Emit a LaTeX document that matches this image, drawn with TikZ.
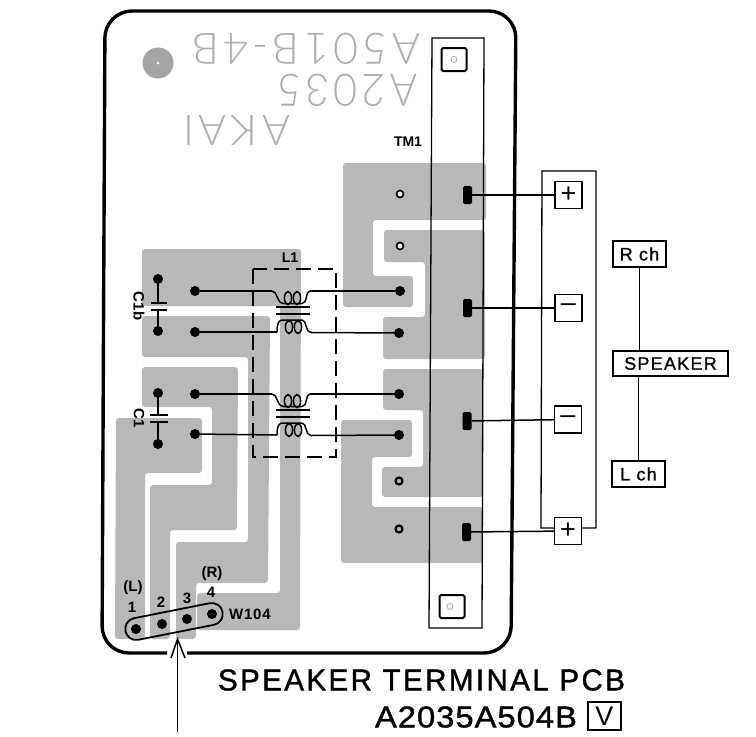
\documentclass[tikz,border=0pt]{standalone}
\usepackage{fontspec}
\usepackage{graphicx}
\setmainfont{Liberation Sans}
\newfontfamily\silkfont{Lato Light}[LetterSpace=10]
\newcommand{\silk}[1]{\textcolor{silkgray}{\silkfont #1}}
\newfontfamily\titlea{Liberation Sans}[LetterSpace=8,FakeBold=1.2]
\newfontfamily\titleb{Liberation Sans}[LetterSpace=3,FakeBold=1.2]
\newfontfamily\tagfont{Liberation Sans}[LetterSpace=7,FakeBold=0.8]
\definecolor{silkgray}{gray}{0.68}
\definecolor{padgray}{gray}{0.72}
\tikzset{
  pad/.style={fill=padgray,draw=none,rounded corners=3pt},
  wire/.style={draw=black,line width=1.5pt},
  thinline/.style={draw=black,line width=1.3pt},
  dot/.style={circle,fill=black,inner sep=0,minimum size=10pt},
  capdot/.style={circle,fill=black,inner sep=0,minimum size=10pt},
  ring/.style={circle,draw=black,fill=white,line width=1.6pt,inner sep=0,minimum size=7pt},
  ringd/.style={circle,draw=black,fill=padgray,line width=2.2pt,inner sep=0,minimum size=7pt},
  term/.style={fill=black,rounded corners=1.5pt,inner sep=0,minimum width=9pt,minimum height=18pt},
  signbox/.style={draw=black,line width=1.3pt,fill=white,inner sep=0,minimum width=27pt,minimum height=27pt,font=\fontsize{27}{27}\selectfont},
  tagbox/.style={draw=black,line width=1.3pt,fill=white,inner sep=0,font=\tagfont\fontsize{18}{18}\selectfont},
  lab/.style={inner sep=0,font=\bfseries\fontsize{14}{14}\selectfont},
  labb/.style={inner sep=0,font=\bfseries\fontsize{15}{15}\selectfont},
  hole/.style={draw=black,line width=2pt,fill=white,rounded corners=1.5pt,minimum width=25pt,minimum height=23pt,inner sep=0},
  hcirc/.style={circle,draw=gray!70,line width=.8pt,fill=white,inner sep=0,minimum size=6pt},
  title/.style={inner sep=0,font=\fontsize{24}{24}\selectfont},
  coilpic/.pic={
    \draw[wire] (-21,-19.5) coordinate (-tl) .. controls (-15,-19.5) and (-17,-7) .. (-9,-7) -- (9,-7)
        .. controls (15,-7) and (12,-19.5) .. (17,-19.5) coordinate (-tr);
    \draw[wire] (-5,-12.5) ellipse [x radius=3.6,y radius=6.5];
    \draw[wire] (4,-12.5) ellipse [x radius=3.6,y radius=6.5];
    \draw[wire] (-17,-3.5) -- (17,-3.5);
    \draw[wire] (-17,3.5) -- (17,3.5);
    \draw[wire] (-16,21.5) coordinate (-bl) .. controls (-16,12) and (-14,9.5) .. (-10,9.5) -- (9,9.5)
        .. controls (14,9.5) and (12,22) .. (18,22) coordinate (-br);
    \draw[wire] (-4,16.5) ellipse [x radius=3.6,y radius=6.5];
    \draw[wire] (5,16.5) ellipse [x radius=3.6,y radius=6.5];
  }
}
\begin{document}
\begin{tikzpicture}[x=1pt,y=-1pt]
\useasboundingbox (0,0) rectangle (756,737);
% copper
\fill[pad] (142,249)--(301,249)--(300,630)--(197,630)--(197,593)--(280,593)--(280,306)--(142,306)--cycle;
\fill[pad] (142,316)--(270,316)--(268,583)--(196,583)--(196,639)--(176,639)--(176,542)--(248,542)--(248,357)--(142,357)--cycle;
\fill[pad] (142,367)--(238,367)--(237,530)--(170,530)--(170,639)--(150,639)--(150,485)--(212,485)--(212,407)--(142,407)--cycle;
\fill[pad] (116,418)--(202,418)--(202,473)--(145,473)--(145,639)--(115,639)--cycle;
\fill[pad] (343,163)--(486,163)--(486,220)--(373,220)--(373,276)--(413,276)--(413,307)--(343,307)--cycle;
\fill[pad] (384,230)--(485,230)--(485,359)--(383,359)--(383,317)--(425,317)--(425,262)--(384,262)--cycle;
\fill[pad] (383,369)--(483,369)--(483,497)--(382,497)--(382,467)--(423,467)--(423,410)--(383,410)--cycle;
\fill[pad] (341,420)--(412,420)--(412,457)--(372,457)--(372,507)--(483,507)--(483,563)--(341,563)--cycle;
% silk text
\node[inner sep=0,rotate=180] (silkA) at (306,48.5) {\resizebox{228pt}{31pt}{\silk{A501B-4B}}};
\node[inner sep=0,rotate=180] (silkB) at (347,90.5) {\resizebox{140pt}{32pt}{\silk{A2035}}};
\node[inner sep=0,rotate=180] (silkC) at (236.5,130) {\resizebox{107pt}{30pt}{\silk{AKAI}}};
\node[circle,fill=padgray!90!black,inner sep=0,minimum size=31pt] (logo) at (158,63) {};
\node[circle,fill=white,inner sep=0,minimum size=3pt] (logoc) at (158,63) {};
% outline
\coordinate (gapL) at (167,653);
\coordinate (gapR) at (187,653);
\draw[line width=3.4pt,rounded corners=27pt] (gapR) -- (511,653) -- (516,11) -- (105,11) -- (102,653) -- (gapL);
% terminal strip
\draw[thinline] (432,38) -- (484,38) -- (482,628) -- (429,628) -- cycle;
\node[hole] (sq1) at (454,59.5) {};
\node[hcirc] (sc1) at (454,59.5) {};
\node[hole] (sq2) at (452,606.5) {};
\node[hcirc] (sc2) at (450,606.5) {};
% terminal dots
\node[ring] (r1) at (400,194) {};
\node[ring] (r2) at (400,246) {};
\node[ringd] (r3) at (399,481) {};
\node[ringd] (r4) at (399,529) {};
\node[dot] (p1) at (400,291) {};
\node[dot] (p2) at (399,333) {};
\node[dot] (p3) at (399,394) {};
\node[dot] (p4) at (399,435) {};
\node[dot] (q1) at (195,291) {};
\node[dot] (q2) at (195,332) {};
\node[dot] (q3) at (195,394) {};
\node[dot] (q4) at (195,434) {};
% inductors
\pic (ca) at (293,310.5) {coilpic};
\pic (cb) at (293,413.5) {coilpic};
\draw[wire] (q1) -- (ca-tl);
\draw[wire] (ca-tr) -- (p1);
\draw[wire] (q2) -- (ca-bl);
\draw[wire] (ca-br) -- (p2);
\draw[wire] (q3) -- (cb-tl);
\draw[wire] (cb-tr) -- (p3);
\draw[wire] (q4) -- (cb-bl);
\draw[wire] (cb-br) -- (p4);
\draw[line width=1.5pt,dash pattern=on 15pt off 7pt] (253,269) rectangle (336,457);
\node[lab] (L1) at (290,257.5) {L1};
% capacitors
\node[capdot] (c1t) at (158,279) {};
\node[capdot] (c1b) at (158,331) {};
\node[capdot] (c2t) at (158,393) {};
\node[capdot] (c2b) at (158,444) {};
\coordinate (c1pt) at (158,303);
\coordinate (c1pb) at (158,310);
\coordinate (c2pt) at (158,415);
\coordinate (c2pb) at (158,422);
\draw[wire] (c1t) -- (c1pt) (c1b) -- (c1pb) (c2t) -- (c2pt) (c2b) -- (c2pb);
\draw[line width=1.8pt] (151,303) -- (167,303) (151,310) -- (167,310) (150,415) -- (168,415) (150,422) -- (168,422);
\node[labb,rotate=-90] (C1b) at (139,306) {C1b};
\node[labb,rotate=-90] (C1) at (139,418) {C1};
\node[lab] (TM1) at (408,142) {TM1};
% terminals
\node[term] (t1) at (467.5,195) {};
\node[term] (t2) at (467.5,308) {};
\node[term] (t3) at (467,421) {};
\node[term] (t4) at (466.5,532) {};
% frame and signs
\draw[thinline] (542,171) -- (596,171) -- (596,528) -- (541,528) -- cycle;
\node[signbox] (s1) at (568.5,195) {+};
\node[signbox] (s2) at (568.5,308) {–};
\node[signbox] (s3) at (568,419.5) {–};
\node[signbox] (s4) at (568,531) {+};
\draw[wire] (t1) -- (s1);
\draw[wire] (t2) -- (s2);
\draw[wire] (t3) -- (s3);
\draw[wire] (t4) -- (s4);
% speaker
\node[tagbox,minimum width=53pt,minimum height=26pt] (rch) at (639.5,254) {R ch};
\node[tagbox,minimum width=115pt,minimum height=25pt] (spk) at (670.5,363.5) {SPEAKER};
\node[tagbox,minimum width=53pt,minimum height=26pt] (lch) at (638.5,474) {L ch};
\draw[thinline] (rch) -- (rch |- spk.north);
\draw[thinline] (lch) -- (lch |- spk.south);
% W104
\node[dot] (w1) at (136,629) {};
\node[dot] (w2) at (162,624) {};
\node[dot] (w3) at (187,619) {};
\node[dot] (w4) at (212,614) {};
\node[draw=black,line width=1.8pt,rounded corners=10.9pt,minimum width=99pt,minimum height=22pt,inner sep=0,rotate=11.2] (oval) at (174,621.5) {};
\node[labb] (lL) at (133,588) {(L)};
\node[labb] (lR) at (212,574) {(R)};
\node[labb] (n1) at (132,607) {1};
\node[labb] (n2) at (161,602) {2};
\node[labb] (n3) at (187,598) {3};
\node[labb] (n4) at (211,592) {4};
\node[labb,anchor=west,font=\bfseries\fontsize{15}{15}\selectfont\addfontfeatures{LetterSpace=5}] (w104) at (229,614) {W104};
% arrow
\coordinate (arrEnd) at (177.5,732);
\coordinate (arrTip) at (177.5,639);
\coordinate (barbL) at (171,658);
\coordinate (barbR) at (185,658);
\draw[wire] (arrEnd) -- (arrTip);
\draw[wire] (barbL) -- (arrTip) -- (barbR);
% titles
\node[title] (t1txt) at (421.5,680) {\resizebox{407pt}{21pt}{\titlea SPEAKER TERMINAL PCB}};
\node[title] (t2txt) at (476,717) {\resizebox{202pt}{21pt}{\titleb A2035A504B}};
\node[draw=black,line width=1.3pt,inner sep=0,minimum width=33pt,minimum height=28pt,font=\fontsize{27}{27}\selectfont] (vbox) at (604.5,716) {V};
\end{tikzpicture}
\end{document}
